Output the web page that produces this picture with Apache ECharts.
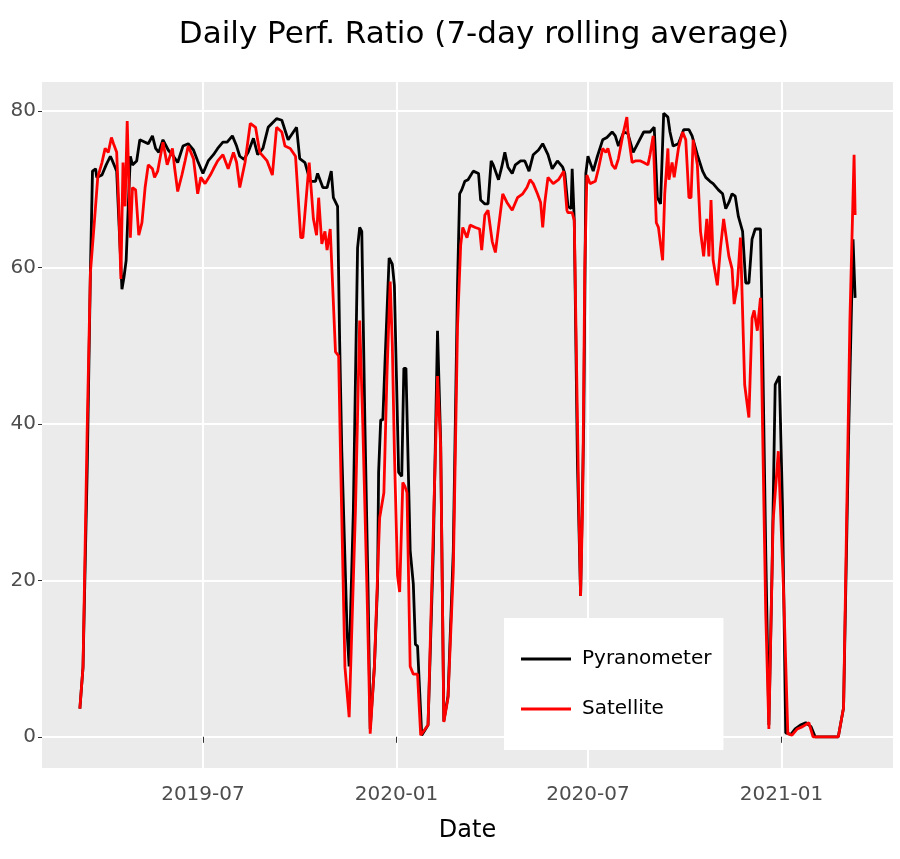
<!DOCTYPE html>
<html>
<head>
<meta charset="utf-8">
<script src="https://cdn.jsdelivr.net/npm/echarts@6/dist/echarts.min.js"></script>
<style>html,body{margin:0;padding:0;background:#fff}#c{width:900px;height:859px}</style>
</head>
<body>
<div id="c"></div>
<script>
// Data: days since start date, 7-day rolling average performance ratio
const startDate = '2019-03-06';
const pyrDays = [0,3,7,10,12,15,16,21,25,29,31,35,37,40,42,44,46,48,50,54,57,62,65,69,72,75,79,84,89,93,98,103,108,112,117,122,127,131,136,140,145,149,152,156,160,165,169,174,179,187,192,198,206,209,214,219,224,226,231,235,239,241,245,247,249,254,256,260,264,266,268,271,274,276,280,283,284,285,286,288,290,294,297,299,303,306,308,310,314,317,319,321,325,331,336,340,343,346,350,355,359,361,363,366,369,374,379,381,385,388,391,393,398,401,404,407,411,414,419,423,427,431,436,440,445,449,454,459,461,464,467,468,470,473,476,479,481,483,488,492,497,501,506,509,512,517,521,526,531,536,542,546,549,552,555,559,561,564,569,574,579,582,587,592,595,599,602,607,611,614,617,620,623,626,630,633,636,639,642,647,649,652,655,658,661,665,668,671,676,680,685,690,695,699,721,726,731,735,737];
const pyrValues = [3.6,8.9,34.4,59.3,72.3,72.6,71.5,71.8,73.1,74.2,73.6,72.3,66.2,57.2,58.8,60.9,67.8,74.2,73.1,73.6,76.3,76,75.8,76.8,75.2,74.7,76.3,75,74.2,73.4,75.5,75.8,75,73.6,72,73.6,74.4,75.2,76,76,76.8,75.5,74.2,73.8,74.7,76.5,74.4,75.2,77.9,79,78.8,76.3,77.9,73.9,73.4,71,71,72,70.2,70.2,72.3,68.9,67.8,50.3,36.5,13.5,9,29,62.5,65.1,64.6,39.7,18.5,1,9,19.5,33.8,34,40.5,40.5,47.6,61.2,60.4,57.7,33.8,33.3,47.1,47.1,23.8,19.5,11.8,11.6,0.2,1.5,23.8,51.9,37.6,2,5.2,23.8,57.7,69.4,69.9,71,71.2,72.3,72,68.6,68.1,68.1,73.6,73.1,71.2,72.8,74.7,72.8,72,73.1,73.6,73.6,72.3,74.4,75,75.8,74.4,72.6,73.6,72.8,72,67.8,67.5,72.6,66,35,18,40,72,74.2,72.3,74.2,76.3,76.6,77.3,76.8,75.5,77.3,77.1,74.7,76,77.3,77.3,77.9,68.9,68.1,79.7,79.2,77.3,75.5,75.8,77.6,77.6,76.8,74.4,72.3,71.5,71,70.7,69.9,69.4,67.5,68.3,69.4,69.1,66.5,64.6,58,58,63.6,64.9,64.9,50.3,23.8,1.5,21.2,45,46.1,29.1,0.5,0.3,1,1.5,1.8,1.3,0,0,3.7,39.8,63.6,56.1];
const satDays = [0,3,7,10,14,17,21,24,27,30,32,35,37,39,41,43,45,48,50,53,56,59,62,65,69,71,74,79,83,88,90,93,97,100,103,108,112,115,119,124,127,131,136,141,146,149,152,157,162,167,171,178,183,187,192,195,200,205,210,212,218,222,225,227,230,233,235,238,243,246,248,252,256,262,266,269,273,276,280,283,285,289,292,295,297,299,302,304,307,309,311,314,317,321,324,331,336,340,343,346,350,355,359,362,364,368,371,376,380,382,385,388,392,395,399,402,406,411,416,421,425,428,431,435,438,440,442,445,450,455,460,463,464,468,470,474,476,478,480,482,485,490,493,497,500,502,506,509,512,516,520,521,525,528,533,536,540,542,545,548,550,554,556,559,560,563,565,569,573,576,579,581,583,587,590,593,596,598,600,602,606,609,612,617,620,622,625,628,632,636,639,641,644,647,649,652,655,659,664,669,673,677,682,687,693,697,721,726,732,736,737];
const satValues = [3.6,8.9,39.7,59.3,66.2,71.5,73.4,75.2,74.7,76.6,75.8,74.7,67.8,58.5,73.4,67.8,78.7,63.8,70.2,69.9,64.1,65.7,70.2,73.1,72.6,71.5,72.3,76,73.1,75.2,72.8,69.7,71.8,73.6,75.5,73.9,69.4,71.5,70.7,71.8,72.6,73.6,74.4,72.6,74.7,73.4,70.2,73.4,78.4,77.9,74.7,73.6,71.8,77.9,77.3,75.5,75.2,74.2,63.8,63.8,73.4,66.2,64.1,68.9,63,64.6,62.2,64.9,49.2,48.7,34.4,8.9,2.5,29,53.2,39.7,18.5,0.4,9,20.6,28,31.2,46.6,58.2,50.3,36.5,20.6,18.5,32.5,32,31.2,9,8,8,0.2,1.5,26.5,46.1,37.1,1.9,5,21.2,52.4,62.8,65.1,63.8,65.4,65.1,64.9,62.2,66.7,67.3,63.3,61.9,66.2,69.4,68.3,67.3,68.9,69.4,70.2,71.2,70.7,69.4,68.3,65.1,68.3,71.5,70.7,71.2,72.3,67.3,67,67,66,32,18,30,60,71.8,70.7,71,72.6,75.2,74.7,75.2,73.1,72.6,73.9,76.8,79.2,77.3,73.4,73.6,73.6,73.4,73.1,74.4,76.8,65.7,65.1,60.9,69.4,75.2,71.2,73.4,71.5,75.2,77.3,76.3,68.9,68.9,76.3,73.1,64.6,61.4,66.2,61.4,68.6,60.9,57.7,62.5,66.2,61.4,59.8,55.3,57.7,63.8,45,40.8,53.5,54.5,51.9,56.1,39.7,15.9,1,27.5,36.5,18.5,0.4,0.2,1,1.3,1.8,0,0,3.7,53,74.4,66.7];
const xTickDates = ['2019-07-01','2020-01-01','2020-07-01','2021-01-01'];
const yTickValues = [0,20,40,60,80];

function ts(s){const p=s.split('-').map(Number);return new Date(p[0],p[1]-1,p[2]).getTime();}
const t0 = ts(startDate);
const DAY = 86400000;
const pyrData = pyrDays.map((d,i)=>[t0+d*DAY, pyrValues[i]]);
const satData = satDays.map((d,i)=>[t0+d*DAY, satValues[i]]);
const xTicks = xTickDates.map(ts);

const chart = echarts.init(document.getElementById('c'), null, {renderer:'canvas'});
const FONT = '"DejaVu Sans", Verdana, sans-serif';
chart.setOption({
  animation:false,
  backgroundColor:'#ffffff',
  textStyle:{fontFamily:FONT},
  title:{
    text:'Daily Perf. Ratio (7-day rolling average)',
    left:479, top:14, textAlign:'center',
    textStyle:{fontFamily:FONT,fontSize:31,fontWeight:'normal',color:'#000'}
  },
  grid:{left:42,right:7,top:82,bottom:91,show:true,backgroundColor:'#EBEBEB',borderWidth:0,containLabel:false},
  legend:{
    orient:'vertical', left:504, top:618,
    backgroundColor:'#ffffff', borderWidth:0,
    padding:[29,12,29,17],
    itemGap:26, itemWidth:50, itemHeight:3, icon:'rect',
    textStyle:{fontFamily:FONT,fontSize:20,color:'#000',lineHeight:24,padding:[0,0,0,6]},
    data:['Pyranometer','Satellite']
  },
  xAxis:{
    type:'value',
    min:ts('2019-01-29'), max:ts('2021-04-17'),
    name:'Date', nameLocation:'middle', nameGap:51,
    nameTextStyle:{fontFamily:FONT,fontSize:24,color:'#000'},
    axisLine:{show:false},
    axisTick:{show:true,length:6,lineStyle:{color:'#333',width:1},customValues:xTicks},
    axisLabel:{customValues:xTicks,fontFamily:FONT,fontSize:20,color:'#4D4D4D',margin:17,
      formatter:function(v){const d=new Date(v);const m=d.getMonth()+1;return d.getFullYear()+'-'+(m<10?'0'+m:m);}},
    splitLine:{show:true,lineStyle:{color:'#ffffff',width:2}}
  },
  yAxis:{
    type:'value', min:-3.99, max:83.69,
    axisLine:{show:false},
    axisTick:{show:true,length:4,lineStyle:{color:'#333',width:1},customValues:yTickValues},
    axisLabel:{customValues:yTickValues,fontFamily:FONT,fontSize:20,color:'#4D4D4D',margin:6},
    splitLine:{show:true,lineStyle:{color:'#ffffff',width:2}}
  },
  series:[
    {name:'Pyranometer',type:'line',data:pyrData,showSymbol:false,symbol:'none',
      lineStyle:{color:'#000000',width:2.8},itemStyle:{color:'#000000'}},
    {name:'Satellite',type:'line',data:satData,showSymbol:false,symbol:'none',
      lineStyle:{color:'#FF0000',width:2.8},itemStyle:{color:'#FF0000'}}
  ]
});
</script>
</body>
</html>
